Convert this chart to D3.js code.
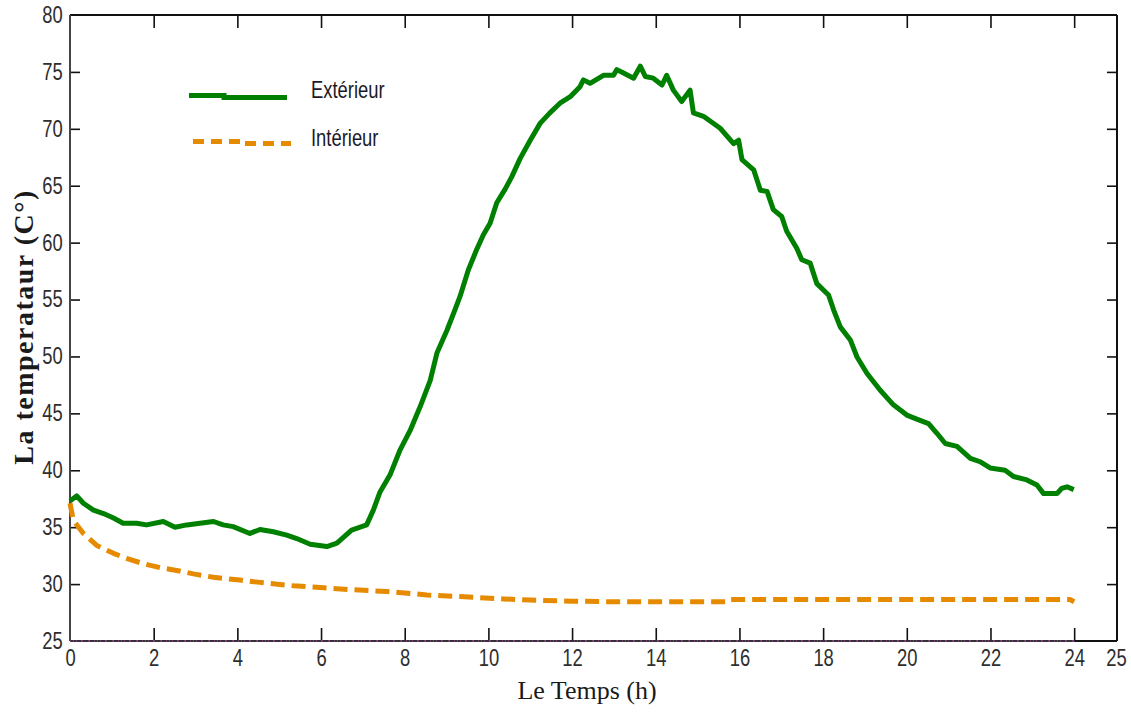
<!DOCTYPE html>
<html>
<head>
<meta charset="utf-8">
<script src="https://cdn.jsdelivr.net/npm/d3@7"></script>
<style>
  html, body { margin: 0; padding: 0; background: #fff; }
  svg { display: block; }
  .tick text { font-family: "Liberation Sans", Arial, sans-serif; font-size: 23px; fill: #2e2e2e; }
  .legend text { font-family: "Liberation Sans", Arial, sans-serif; font-size: 23px; fill: #1c1a28; }
</style>
</head>
<body>
<svg id="chart" width="1131" height="713"></svg>
<script>
// Outdoor temperature over the day (hours, °C)
const extHours = [0, 0.16, 0.32, 0.56, 0.80, 1.04, 1.27, 1.59, 1.83, 2.23, 2.51, 2.79, 3.11, 3.43, 3.66, 3.90,
  4.30, 4.54, 4.86, 5.18, 5.42, 5.74, 6.14, 6.38, 6.73, 7.09, 7.25, 7.41, 7.65, 7.89, 8.13, 8.37, 8.61, 8.77,
  9.01, 9.20, 9.32, 9.52, 9.72, 9.88, 10.04, 10.20, 10.40, 10.56, 10.76, 11.00, 11.24, 11.47, 11.71, 11.95,
  12.19, 12.27, 12.43, 12.75, 12.99, 13.07, 13.23, 13.47, 13.63, 13.75, 13.94, 14.15, 14.26, 14.42, 14.62,
  14.82, 14.90, 15.14, 15.54, 15.86, 15.98, 16.06, 16.34, 16.50, 16.66, 16.81, 17.01, 17.13, 17.37, 17.49,
  17.69, 17.85, 18.13, 18.25, 18.41, 18.65, 18.81, 19.05, 19.36, 19.68, 20.00, 20.24, 20.52, 20.72, 20.92,
  21.20, 21.52, 21.75, 21.99, 22.35, 22.55, 22.87, 23.11, 23.27, 23.59, 23.70, 23.83, 23.99];
const extTemps = [37.3, 37.75, 37.1, 36.5, 36.2, 35.8, 35.35, 35.35, 35.2, 35.5, 35.0, 35.2, 35.35, 35.5, 35.2, 35.05,
  34.45, 34.8, 34.6, 34.3, 34.0, 33.5, 33.3, 33.6, 34.75, 35.2, 36.5, 38.1, 39.6, 41.8, 43.5, 45.6, 47.9, 50.3,
  52.3, 54.1, 55.25, 57.6, 59.4, 60.7, 61.7, 63.5, 64.7, 65.8, 67.4, 69.0, 70.5, 71.4, 72.25, 72.8,
  73.7, 74.3, 74.0, 74.7, 74.7, 75.2, 74.9, 74.45, 75.5, 74.6, 74.45, 73.85, 74.7, 73.4, 72.4,
  73.4, 71.4, 71.1, 70.05, 68.7, 69.0, 67.3, 66.4, 64.6, 64.5, 62.9, 62.3, 61.0, 59.5, 58.5,
  58.2, 56.4, 55.4, 54.1, 52.6, 51.45, 49.95, 48.5, 47.05, 45.75, 44.85, 44.5, 44.1, 43.25, 42.35,
  42.1, 41.05, 40.75, 40.2, 40.0, 39.45, 39.15, 38.7, 37.95, 37.95, 38.4, 38.55, 38.3];

// Indoor temperature over the day (hours, °C)
const intHours = [0, 0.08, 0.32, 0.64, 1.04, 1.35, 1.75, 2.15, 2.55, 2.95, 3.43, 4.06, 4.54, 5.34, 5.98, 6.77,
  7.57, 8.53, 9.32, 10.36, 11.0, 12.0, 13.0, 14.0, 15.0, 15.75, 15.8, 17.0, 20.0, 23.9, 24.0];
const intTemps = [37.1, 35.6, 34.45, 33.4, 32.7, 32.25, 31.8, 31.45, 31.2, 30.9, 30.6, 30.35, 30.15, 29.85, 29.7, 29.5,
  29.35, 29.05, 28.9, 28.7, 28.6, 28.5, 28.45, 28.45, 28.45, 28.45, 28.65, 28.65, 28.65, 28.65, 28.45];

const seriesNames = ["Extérieur", "Intérieur"];
const xTicks = [0, 2, 4, 6, 8, 10, 12, 14, 16, 18, 20, 22, 24, 25];
const yTicks = [25, 30, 35, 40, 45, 50, 55, 60, 65, 70, 75, 80];
const xTitle = "Le Temps (h)";
const yTitle = "La temperataur (C°)";

const green = "#008000";
const orange = "#e68a00";
const narrow = "scale(0.8,1)";

const svg = d3.select("#chart");
const L = 70, R = 1117, T = 15, B = 641;

const x = d3.scaleLinear().domain([0, 25]).range([L, R - 1]);
const y = d3.scaleLinear().domain([25, 80]).range([B, T]);

// Axes with inward ticks on all four sides
const bottomAxis = d3.axisBottom(x).tickValues(xTicks).tickSize(-13).tickPadding(10)
  .tickFormat(d3.format("d"));
const gB = svg.append("g").attr("transform", `translate(0,${B})`).call(bottomAxis);
gB.select(".domain").remove();
gB.selectAll(".tick line").attr("stroke", "#111").attr("stroke-width", 1.6)
  .attr("opacity", d => (d === 0 || d === 25) ? 0 : 1);
gB.selectAll(".tick text").attr("dy", "0.71em").attr("y", 9).attr("transform", narrow);

const topAxis = d3.axisTop(x).tickValues(xTicks.filter(d => d > 0 && d < 25)).tickSize(-13).tickFormat("");
const gT = svg.append("g").attr("transform", `translate(0,${T})`).call(topAxis);
gT.select(".domain").remove();
gT.selectAll(".tick line").attr("stroke", "#111").attr("stroke-width", 1.6);

const leftAxis = d3.axisLeft(y).tickValues(yTicks).tickSize(-10).tickPadding(9).tickFormat(d3.format("d"));
const gL = svg.append("g").attr("transform", `translate(${L},0)`).call(leftAxis);
gL.select(".domain").remove();
gL.selectAll(".tick line").attr("stroke", "#111").attr("stroke-width", 1.6)
  .attr("opacity", d => (d === 25 || d === 80) ? 0 : 1);
gL.selectAll(".tick text").attr("transform", narrow);

const rightAxis = d3.axisRight(y).tickValues(yTicks.filter(d => d > 25 && d < 80)).tickSize(-10).tickFormat("");
const gR = svg.append("g").attr("transform", `translate(${R},0)`).call(rightAxis);
gR.select(".domain").remove();
gR.selectAll(".tick line").attr("stroke", "#111").attr("stroke-width", 1.6);

// Frame lines
svg.append("line").attr("x1", L).attr("x2", R).attr("y1", T).attr("y2", T)
  .attr("stroke", "#111").attr("stroke-width", 2);
svg.append("line").attr("x1", L).attr("x2", L).attr("y1", T).attr("y2", B)
  .attr("stroke", "#444").attr("stroke-width", 2);
svg.append("line").attr("x1", R).attr("x2", R).attr("y1", T).attr("y2", B)
  .attr("stroke", "#111").attr("stroke-width", 2);
svg.append("line").attr("x1", x(24)).attr("x2", R).attr("y1", B).attr("y2", B)
  .attr("stroke", "#111").attr("stroke-width", 2);
// speckled baseline under the plotted range
svg.append("line").attr("x1", L).attr("x2", x(24)).attr("y1", B).attr("y2", B)
  .attr("stroke", "#333").attr("stroke-width", 2);
svg.append("line").attr("x1", L).attr("x2", x(24)).attr("y1", B).attr("y2", B)
  .attr("stroke", "#c040c0").attr("stroke-width", 1.2).attr("stroke-dasharray", "1,5");
svg.append("line").attr("x1", L + 3).attr("x2", x(24)).attr("y1", B).attr("y2", B)
  .attr("stroke", "#30a0c0").attr("stroke-width", 1.2).attr("stroke-dasharray", "1,7");

// Series lines
const line = d3.line().x(d => x(d[0])).y(d => y(d[1]));
const extData = extHours.map((h, i) => [h, extTemps[i]]);
const intData = intHours.map((h, i) => [h, intTemps[i]]);

svg.append("path").datum(intData).attr("d", line)
  .attr("fill", "none").attr("stroke", orange).attr("stroke-width", 5)
  .attr("stroke-dasharray", "14,7").attr("stroke-linejoin", "round");
svg.append("path").datum(extData).attr("d", line)
  .attr("fill", "none").attr("stroke", green).attr("stroke-width", 5)
  .attr("stroke-linejoin", "round");

// Legend
const lg = svg.append("g").attr("class", "legend");
lg.append("path").attr("d", "M189,95.5H224V97.5H287")
  .attr("fill", "none").attr("stroke", green).attr("stroke-width", 5);
lg.append("path").attr("d", "M193,141.5H245V143.5H291")
  .attr("fill", "none").attr("stroke", orange).attr("stroke-width", 5).attr("stroke-dasharray", "11,7");
lg.append("g").attr("transform", "translate(311,98) " + narrow).append("text").text(seriesNames[0]);
lg.append("g").attr("transform", "translate(311,146) " + narrow).append("text").text(seriesNames[1]);

// Axis titles
svg.append("text").attr("x", 587).attr("y", 699).attr("text-anchor", "middle")
  .attr("font-family", "'Liberation Serif', 'Times New Roman', serif").attr("font-size", 26)
  .attr("fill", "#1a1a1a").text(xTitle);
svg.append("text").attr("transform", "translate(33,327) rotate(-90)").attr("text-anchor", "middle")
  .attr("font-family", "'Liberation Serif', 'Times New Roman', serif").attr("font-size", 28)
  .attr("font-weight", "bold").attr("letter-spacing", 1.5)
  .attr("fill", "#1a1a1a").text(yTitle);
</script>
</body>
</html>
